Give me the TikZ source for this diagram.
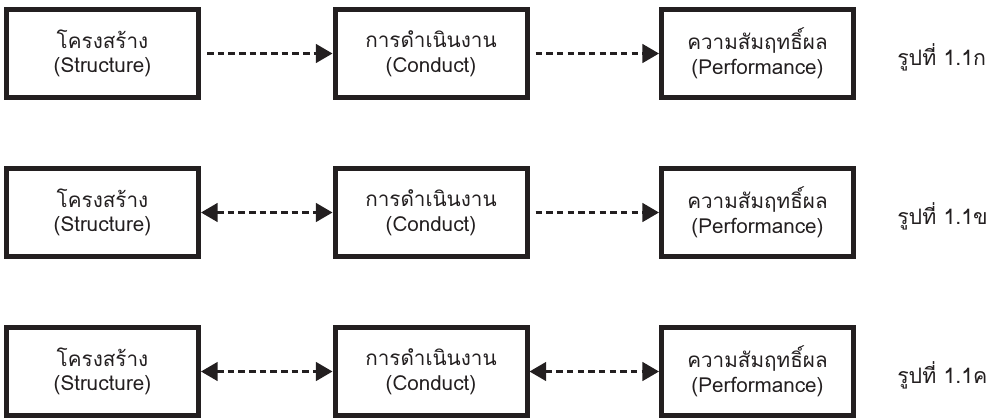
\documentclass[tikz,border=0pt]{standalone}
\usepackage{fontspec}
\setmainfont[Script=Thai]{Loma}
\usetikzlibrary{arrows.meta}
\definecolor{ink}{HTML}{231F20}
\begin{document}
\begin{tikzpicture}[x=0.75pt,y=-0.75pt,
  box/.style={draw=ink,line width=3.75pt,minimum width=144pt,minimum height=66pt,
    align=center,inner sep=0pt,font=\fontsize{15.5}{18.5}\selectfont,text=ink},
  conn/.style={draw=ink,line width=2pt,dash pattern=on 4.9pt off 3.1pt},
  headtip/.tip={Triangle[length=12.5pt,width=14pt]},
  lbl/.style={anchor=west,font=\fontsize{16}{18}\selectfont,text=ink,inner sep=0pt}]
\useasboundingbox (0,0) rectangle (991,419);
% row 1
\node[box] (s1) at (102.5,53.5) {โครงสร้าง\\(Structure)};
\node[box] (c1) at (431,53.5) {การดำเนินงาน\\(Conduct)};
\node[box] (p1) at (757.5,53.5) {ความสัมฤทธิ์ผล\\(Performance)};
\node[lbl] (l1) at (897,57) {รูปที่ 1.1ก};
\draw[conn,-{headtip},shorten <=4.5pt] (s1) -- (c1);
\draw[conn,-{headtip},shorten <=4.5pt] (c1) -- (p1);
% row 2
\node[box] (s2) at (102.5,212.5) {โครงสร้าง\\(Structure)};
\node[box] (c2) at (431,212.5) {การดำเนินงาน\\(Conduct)};
\node[box] (p2) at (757.5,212.5) {ความสัมฤทธิ์ผล\\(Performance)};
\node[lbl] (l2) at (897,216) {รูปที่ 1.1ข};
\draw[conn,{headtip}-{headtip}] (s2) -- (c2);
\draw[conn,-{headtip},shorten <=4.5pt] (c2) -- (p2);
% row 3
\node[box] (s3) at (102.5,371.5) {โครงสร้าง\\(Structure)};
\node[box] (c3) at (431,371.5) {การดำเนินงาน\\(Conduct)};
\node[box] (p3) at (757.5,371.5) {ความสัมฤทธิ์ผล\\(Performance)};
\node[lbl] (l3) at (897,375) {รูปที่ 1.1ค};
\draw[conn,{headtip}-{headtip}] (s3) -- (c3);
\draw[conn,{headtip}-{headtip}] (c3) -- (p3);
\end{tikzpicture}
\end{document}
